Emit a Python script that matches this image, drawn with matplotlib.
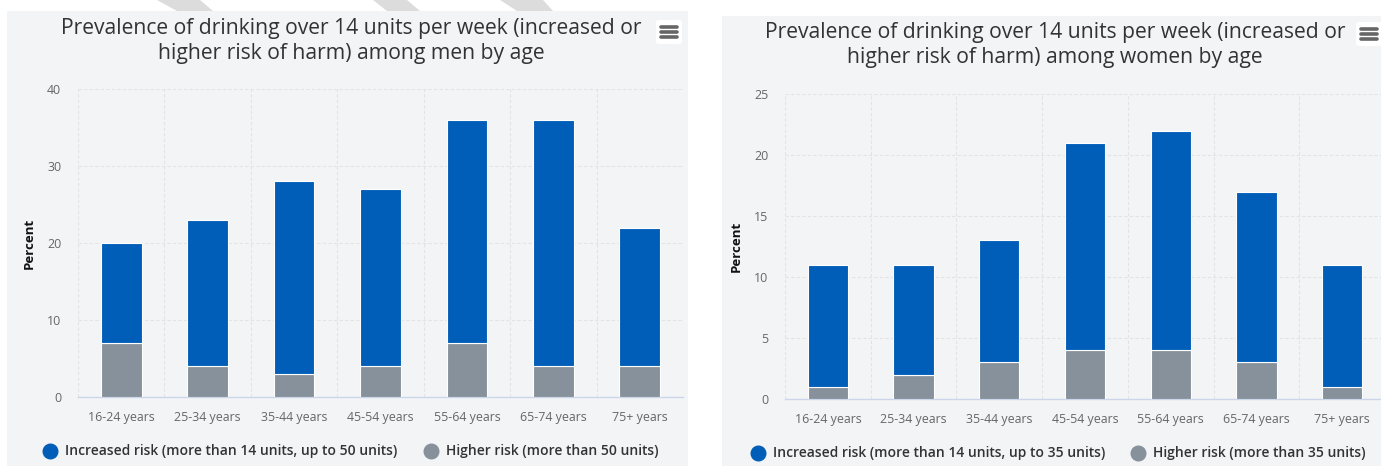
import matplotlib
matplotlib.use("Agg")
import matplotlib.pyplot as plt
from matplotlib.patches import Rectangle, Polygon, FancyBboxPatch
from matplotlib.lines import Line2D
import numpy as np

plt.rcParams['font.family'] = ['Open Sans', 'DejaVu Sans']

categories = ["16-24 years", "25-34 years", "35-44 years", "45-54 years",
              "55-64 years", "65-74 years", "75+ years"]

men_higher = [7, 4, 3, 4, 7, 4, 4]
men_increased = [13, 19, 25, 23, 29, 32, 18]

women_higher = [1, 2, 3, 4, 4, 3, 1]
women_increased = [10, 9, 10, 17, 18, 14, 10]

men_title = "Prevalence of drinking over 14 units per week (increased or\nhigher risk of harm) among men by age"
women_title = "Prevalence of drinking over 14 units per week (increased or\nhigher risk of harm) among women by age"
men_legend = ["Increased risk (more than 14 units, up to 50 units)", "Higher risk (more than 50 units)"]
women_legend = ["Increased risk (more than 14 units, up to 35 units)", "Higher risk (more than 35 units)"]

BLUE = "#005eb8"
GREY = "#87919b"
BG = "#f3f4f6"

W, H = 1381, 466
fig = plt.figure(figsize=(W / 100, H / 100), dpi=100)
fig.patch.set_facecolor("white")


def fx(px):
    return px / W


def fy(py):
    return 1 - py / H


# watermark streaks at top
for pts in [[(157, 0), (200, 0), (213, 11), (177, 11)],
            [(373, 0), (407, 0), (420, 11), (387, 11)],
            [(500, 0), (543, 0), (553, 11), (517, 11)]]:
    fig.add_artist(Polygon([(fx(x), fy(y)) for x, y in pts], closed=True,
                           facecolor="#dcdcdc", edgecolor="none",
                           transform=fig.transFigure, zorder=0))

# panel backgrounds
fig.add_artist(Rectangle((fx(7), 0), fx(688 - 7), fy(11), transform=fig.transFigure,
                         facecolor=BG, edgecolor="none", zorder=0))
fig.add_artist(Rectangle((fx(722), 0), fx(W - 722), fy(16), transform=fig.transFigure,
                         facecolor=BG, edgecolor="none", zorder=0))


def hamburger(x0, y0):
    fig.add_artist(FancyBboxPatch((fx(x0), fy(y0 + 24)), fx(26), 24 / H,
                                  boxstyle="round,pad=0,rounding_size=0.004",
                                  transform=fig.transFigure, facecolor="white",
                                  edgecolor="none", zorder=2))
    for dy in (7, 12, 17):
        fig.add_artist(Line2D([fx(x0 + 5), fx(x0 + 21)], [fy(y0 + dy), fy(y0 + dy)],
                              transform=fig.transFigure, color="#666666", lw=2.6,
                              solid_capstyle="round", zorder=3))


def panel(rect, increased, higher, ymax, ystep, title, title_xy, legend_labels, legend_xs, legend_y):
    ax = fig.add_axes(rect)
    ax.set_facecolor("none")
    x = np.arange(len(categories))
    ax.bar(x, higher, width=0.47, color=GREY, edgecolor="white", linewidth=0.8, zorder=3)
    ax.bar(x, increased, bottom=higher, width=0.47, color=BLUE, edgecolor="white",
           linewidth=0.8, zorder=3)
    ax.set_xlim(-0.5, len(categories) - 0.5)
    ax.set_ylim(0, ymax)
    ax.set_yticks(np.arange(0, ymax + 0.1, ystep))
    ax.set_xticks(x)
    ax.set_xticklabels(categories)
    ax.tick_params(axis="both", length=0, labelsize=8.9, colors="#666666")
    ax.tick_params(axis="x", pad=10)
    ax.tick_params(axis="y", pad=12)
    for s in ("top", "right", "left"):
        ax.spines[s].set_visible(False)
    ax.spines["bottom"].set_color("#ccd6eb")
    ax.spines["bottom"].set_linewidth(1)
    ax.grid(axis="y", color="#e3e3e3", linestyle=(0, (3, 2)), linewidth=0.8, zorder=0)
    ax.set_xticks(np.arange(-0.5, len(categories) + 0.5, 1), minor=True)
    ax.grid(axis="x", which="minor", color="#e3e3e3", linestyle=(0, (3, 2)), linewidth=0.8, zorder=0)
    ax.grid(axis="x", which="major", visible=False)
    ax.tick_params(axis="x", which="minor", length=0)
    ax.set_ylabel("Percent", fontsize=9.5, fontweight="bold", color="#111111", labelpad=8)
    fig.text(fx(title_xy[0]), fy(title_xy[1]), title, ha="center", va="center",
             fontsize=15.2, color="#333333", linespacing=1.22)
    for lx, lab, col in zip(legend_xs, legend_labels, [BLUE, GREY]):
        fig.add_artist(Line2D([fx(lx)], [fy(legend_y)], marker="o", markersize=10.5,
                              color=col, transform=fig.transFigure, linestyle="none"))
        fig.text(fx(lx + 15), fy(legend_y), lab, ha="left", va="center",
                 fontsize=10, fontweight="semibold", color="#333333")
    return ax


panel([fx(78), fy(397), fx(683 - 78), (397 - 89) / H], men_increased, men_higher, 40, 10,
      men_title, (351, 41), men_legend, (50, 431), 451)
panel([fx(785), fy(399), fx(1385 - 785), (399 - 94) / H], women_increased, women_higher, 25, 5,
      women_title, (1055, 45), women_legend, (758, 1138), 453)

hamburger(656, 20)
hamburger(1356, 22)

fig.savefig("out.png", dpi=100, facecolor=fig.get_facecolor())
